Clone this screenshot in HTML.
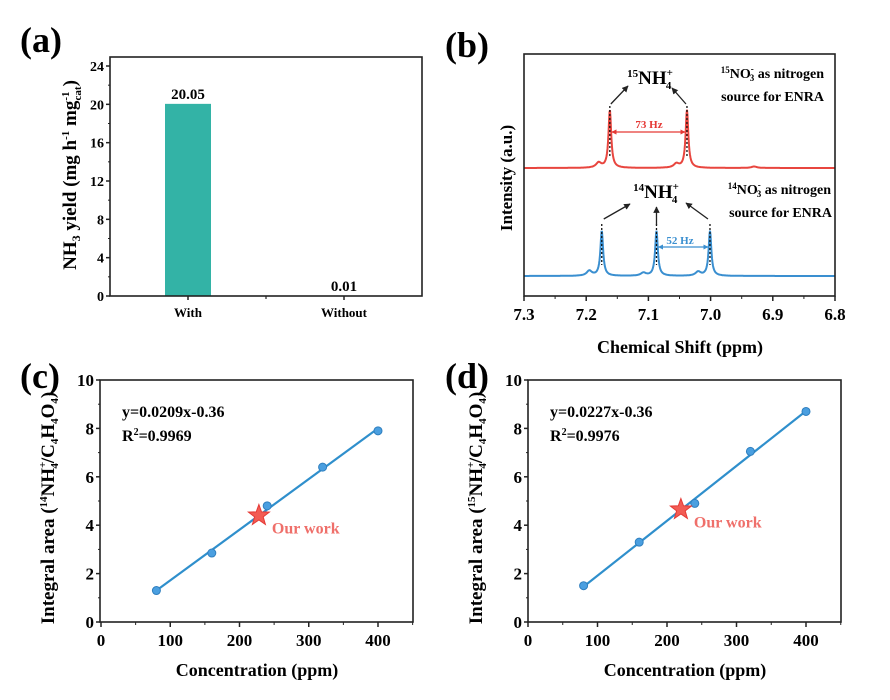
<!DOCTYPE html>
<html><head><meta charset="utf-8"><style>
html,body{margin:0;padding:0;background:#fff;}
svg{display:block;font-family:"Liberation Serif",serif;font-weight:bold;}
</style></head><body>
<svg id="fig" width="890" height="700" viewBox="0 0 890 700"></svg>
<script>
// ---- data ----
const barCats=["With","Without"];
const barVals=[20.05,0.01];
const barLabels=["20.05","0.01"];
const barTicks=[0,4,8,12,16,20,24];
const redPeakPos=[7.162,7.038,7.180,7.055,6.93];
const redPeakH=[58,58,5,4,1.5];
const bluePeakPos=[7.175,7.087,7.001,7.195,7.020,7.108];
const bluePeakH=[45,45,45,5,4,3];
const nmrTicks=[7.3,7.2,7.1,7.0,6.9,6.8];
const cX=[80,160,240,320,400];
const cY=[1.3,2.85,4.8,6.4,7.9];
const cStar=[228,4.4];
const dX=[80,160,240,320,400];
const dY=[1.5,3.3,4.9,7.05,8.7];
const dStar=[220,4.65];
const linXTicks=[0,100,200,300,400];
const linYTicks=[0,2,4,6,8,10];

const S=document.getElementById('fig');
const NS='http://www.w3.org/2000/svg';
function mk(tag,attrs,parent,txt){const e=document.createElementNS(NS,tag);for(const k in attrs)e.setAttribute(k,attrs[k]);if(txt!==undefined)e.innerHTML=txt;(parent||S).appendChild(e);return e;}
function grp(name){const g=mk('g',{});return g;}
mk('defs',{},S,'<marker id="ab" viewBox="0 0 10 10" refX="9" refY="5" markerWidth="5" markerHeight="5" orient="auto-start-reverse"><path d="M0,0L10,5L0,10z" fill="#222"/></marker><marker id="ar" viewBox="0 0 10 10" refX="9" refY="5" markerWidth="4" markerHeight="4" orient="auto-start-reverse"><path d="M0,0L10,5L0,10z" fill="#e53935"/></marker><marker id="abl" viewBox="0 0 10 10" refX="9" refY="5" markerWidth="4" markerHeight="4" orient="auto-start-reverse"><path d="M0,0L10,5L0,10z" fill="#3a8fd0"/></marker>');

// panel labels
[["(a)",20,52],["(b)",445,57],["(c)",20,388],["(d)",445,388]].forEach(p=>{const t=mk('text',{x:p[1],y:p[2],'font-size':36},S,p[0]);});

// ---- (a) bar chart ----
(function(){
 const g=grp('panel-a-bar-chart');
 const L=110,R=422,T=57,B=296;
 const y=v=>B-v*(B-66)/24;
 const x=i=>L+(R-L)*(0.25+0.5*i);
 barVals.forEach((v,i)=>{
  const r=mk('rect',{x:x(i)-23,y:y(v),width:46,height:B-y(v),fill:'#33b3a6'},g);
  
  const t=mk('text',{x:x(i),y:y(v)-5,'font-size':15,'text-anchor':'middle'},g,barLabels[i]);
  
  const c=mk('text',{x:x(i),y:B+21,'font-size':13,'text-anchor':'middle'},g,barCats[i]);
  
  mk('line',{x1:x(i),x2:x(i),y1:B,y2:B+4,stroke:'#222','stroke-width':1.5},g);
 });
 mk('line',{x1:(L+R)/2,x2:(L+R)/2,y1:B,y2:B+3,stroke:'#222','stroke-width':1.2},g);
 barTicks.forEach(v=>{mk('line',{x1:L-4,x2:L,y1:y(v),y2:y(v),stroke:'#222','stroke-width':1.5},g);
  if(v<24)mk('line',{x1:L-2,x2:L,y1:y(v+2),y2:y(v+2),stroke:'#222','stroke-width':1},g);
  const t=mk('text',{x:L-6,y:y(v)+5,'font-size':14,'text-anchor':'end'},g,v);});
 const f=mk('rect',{x:L,y:T,width:R-L,height:B-T,fill:'none',stroke:'#222','stroke-width':1.6},g);
 const yt=mk('text',{transform:'translate(76,175) rotate(-90)','font-size':19,'text-anchor':'middle'},g,'NH<tspan font-size="12" dy="4">3</tspan><tspan dy="-4"> yield (mg h</tspan><tspan font-size="11" dy="-7">-1</tspan><tspan dy="7"> mg</tspan><tspan font-size="11" dy="-7">-1</tspan><tspan font-size="11" dx="-9" dy="12">cat</tspan><tspan dy="-5">)</tspan>');
 
})();

// ---- (b) NMR ----
(function(){
 const g=grp('panel-b-nmr-spectra');
 const L=524,R=835,T=54,B=296;
 const x=p=>L+(7.3-p)/0.5*(R-L);
 function spec(pos,h,base,col,name){
  let d='';
  for(let px=L;px<=R;px+=0.5){const p=7.3-(px-L)/(R-L)*0.5;let v=0;pos.forEach((c,i)=>{const w=i<2||(name==='spectrum-14n'&&i<3)?0.0026:0.005;v+=h[i]*w*w/((p-c)*(p-c)+w*w);});
   d+=(d?'L':'M')+px.toFixed(1)+','+(base-v).toFixed(1);}
  const pa=mk('path',{d:d,fill:'none',stroke:col,'stroke-width':2},g);
 }
 spec(redPeakPos,redPeakH,168,'#e8463f','spectrum-15n');
 spec(bluePeakPos,bluePeakH,276,'#3a8fd0','spectrum-14n');
 [0,1].forEach(i=>mk('line',{x1:x(redPeakPos[i]),x2:x(redPeakPos[i]),y1:106,y2:158,stroke:'#111','stroke-width':1.3,'stroke-dasharray':'2,2'},g));
 [0,1,2].forEach(i=>mk('line',{x1:x(bluePeakPos[i]),x2:x(bluePeakPos[i]),y1:224,y2:265,stroke:'#111','stroke-width':1.3,'stroke-dasharray':'2,2'},g));
 mk('line',{x1:x(redPeakPos[0])+1,y1:104,x2:628,y2:86,stroke:'#222','stroke-width':1.3,'marker-end':'url(#ab)'},g);
 mk('line',{x1:x(redPeakPos[1])-1,y1:104,x2:672,y2:88,stroke:'#222','stroke-width':1.3,'marker-end':'url(#ab)'},g);
 mk('line',{x1:x(bluePeakPos[0])+2,y1:219,x2:630,y2:204,stroke:'#222','stroke-width':1.3,'marker-end':'url(#ab)'},g);
 mk('line',{x1:x(bluePeakPos[1]),y1:225,x2:x(bluePeakPos[1]),y2:207,stroke:'#222','stroke-width':1.3,'marker-end':'url(#ab)'},g);
 mk('line',{x1:x(bluePeakPos[2])-2,y1:219,x2:686,y2:203,stroke:'#222','stroke-width':1.3,'marker-end':'url(#ab)'},g);
 mk('line',{x1:x(redPeakPos[0])+2,y1:132,x2:x(redPeakPos[1])-2,y2:132,stroke:'#e53935','stroke-width':1.3,'marker-start':'url(#ar)','marker-end':'url(#ar)'},g);
 mk('line',{x1:x(bluePeakPos[1])+2,y1:247,x2:x(bluePeakPos[2])-2,y2:247,stroke:'#3a8fd0','stroke-width':1.3,'marker-start':'url(#abl)','marker-end':'url(#abl)'},g);
 mk('text',{x:649,y:128,'font-size':11,fill:'#e53935','text-anchor':'middle'},g,'73 Hz');
 mk('text',{x:680,y:244,'font-size':11,fill:'#3a8fd0','text-anchor':'middle'},g,'52 Hz');
 mk('text',{x:650,y:84,'font-size':19,'text-anchor':'middle'},g,'<tspan font-size="11" dy="-7">15</tspan><tspan dy="7">NH</tspan><tspan font-size="11" dy="-8">+</tspan><tspan font-size="11" dx="-7" dy="13">4</tspan>');
 mk('text',{x:656,y:198,'font-size':19,'text-anchor':'middle'},g,'<tspan font-size="11" dy="-7">14</tspan><tspan dy="7">NH</tspan><tspan font-size="11" dy="-8">+</tspan><tspan font-size="11" dx="-7" dy="13">4</tspan>');
 mk('text',{x:824,y:78,'font-size':14,'text-anchor':'end'},g,'<tspan font-size="9" dy="-5">15</tspan><tspan dy="5">NO</tspan><tspan font-size="9" dy="-6">-</tspan><tspan font-size="9" dx="-4" dy="9">3</tspan><tspan dy="-3"> as nitrogen</tspan>');
 mk('text',{x:824,y:101,'font-size':14,'text-anchor':'end'},g,'source for ENRA');
 mk('text',{x:831,y:194,'font-size':14,'text-anchor':'end'},g,'<tspan font-size="9" dy="-5">14</tspan><tspan dy="5">NO</tspan><tspan font-size="9" dy="-6">-</tspan><tspan font-size="9" dx="-4" dy="9">3</tspan><tspan dy="-3"> as nitrogen</tspan>');
 mk('text',{x:832,y:217,'font-size':14,'text-anchor':'end'},g,'source for ENRA');
 nmrTicks.forEach((v,i)=>{mk('line',{x1:x(v),x2:x(v),y1:B,y2:B+5,stroke:'#222','stroke-width':1.5},g);
  if(i<nmrTicks.length-1)mk('line',{x1:x(v-0.05),x2:x(v-0.05),y1:B,y2:B+3,stroke:'#222','stroke-width':1},g);
  const t=mk('text',{x:x(v),y:B+24,'font-size':17,'text-anchor':'middle'},g,v.toFixed(1));});
 mk('rect',{x:L,y:T,width:R-L,height:B-T,fill:'none',stroke:'#222','stroke-width':1.6},g);
 const xt=mk('text',{x:680,y:353,'font-size':18,'text-anchor':'middle'},g,'Chemical Shift (ppm)');
 const yt=mk('text',{transform:'translate(512,178) rotate(-90)','font-size':17,'text-anchor':'middle'},g,'Intensity (a.u.)');
})();

// ---- (c),(d) linear fits ----
function lin(name,L,R,x0px,x400px,X,Y,star,eq,r2,iso,titleX){
 const g=grp(name);
 const T=380,B=622;
 const x=v=>x0px+v*(x400px-x0px)/400;
 const y=v=>B-v*(B-T)/10;
 const n=X.length;let sx=0,sy=0,sxx=0,sxy=0;X.forEach((a,i)=>{sx+=a;sy+=Y[i];sxx+=a*a;sxy+=a*Y[i];});
 const m=(n*sxy-sx*sy)/(n*sxx-sx*sx),b=(sy-m*sx)/n;
 const fl=mk('line',{x1:x(X[0]),y1:y(m*X[0]+b),x2:x(X[n-1]),y2:y(m*X[n-1]+b),stroke:'#2f8fcc','stroke-width':2.2},g);
 X.forEach((a,i)=>{const c=mk('circle',{cx:x(a),cy:y(Y[i]),r:4,fill:'#4a9fe0',stroke:'#2f7fbf','stroke-width':1},g);});
 const sx0=x(star[0]),sy0=y(star[1]);let pts='';
 for(let k=0;k<10;k++){const r=k%2?4.5:11,a=-Math.PI/2+k*Math.PI/5;pts+=(sx0+r*Math.cos(a)).toFixed(1)+','+(sy0+r*Math.sin(a)).toFixed(1)+' ';}
 const st=mk('polygon',{points:pts,fill:'#f25c54',stroke:'#e53935','stroke-width':1},g);
 mk('text',{x:sx0+13,y:sy0+18,'font-size':16,fill:'#ef6f6a'},g,'Our work');
 mk('text',{x:L+22,y:T+37,'font-size':16},g,eq);
 mk('text',{x:L+22,y:T+61,'font-size':16},g,'R<tspan font-size="10" dy="-6">2</tspan><tspan dy="6">'+r2+'</tspan>');
 linYTicks.forEach(v=>{mk('line',{x1:L-4,x2:L,y1:y(v),y2:y(v),stroke:'#222','stroke-width':1.5},g);
  if(v<10)mk('line',{x1:L-2,x2:L,y1:y(v+1),y2:y(v+1),stroke:'#222','stroke-width':1},g);
  const t=mk('text',{x:L-6,y:y(v)+6,'font-size':17,'text-anchor':'end'},g,v);});
 linXTicks.forEach(v=>{mk('line',{x1:x(v),x2:x(v),y1:B,y2:B+5,stroke:'#222','stroke-width':1.5},g);
  mk('line',{x1:x(v+50),x2:x(v+50),y1:B,y2:B+3,stroke:'#222','stroke-width':1},g);
  const t=mk('text',{x:x(v),y:B+24,'font-size':17,'text-anchor':'middle'},g,v);});
 mk('rect',{x:L,y:T,width:R-L,height:B-T,fill:'none',stroke:'#222','stroke-width':1.6},g);
 const xt=mk('text',{x:titleX,y:676,'font-size':18,'text-anchor':'middle'},g,'Concentration (ppm)');
 const yt=mk('text',{transform:'translate('+(L-46)+',508) rotate(-90)','font-size':19,'text-anchor':'middle'},g,'Integral area (<tspan font-size="11" dy="-7">'+iso+'</tspan><tspan dy="7">NH</tspan><tspan font-size="11" dy="-8">+</tspan><tspan font-size="11" dx="-7" dy="12">4</tspan><tspan dy="-4">/C</tspan><tspan font-size="11" dy="4">4</tspan><tspan dy="-4">H</tspan><tspan font-size="11" dy="4">4</tspan><tspan dy="-4">O</tspan><tspan font-size="11" dy="4">4</tspan><tspan dy="-4">)</tspan>');
 
}
lin('panel-c-14n-calibration',100,413,101,378,cX,cY,cStar,'y=0.0209x-0.36','=0.9969','14',257);
lin('panel-d-15n-calibration',528,841,528,806,dX,dY,dStar,'y=0.0227x-0.36','=0.9976','15',685);
</script>
</body></html>
